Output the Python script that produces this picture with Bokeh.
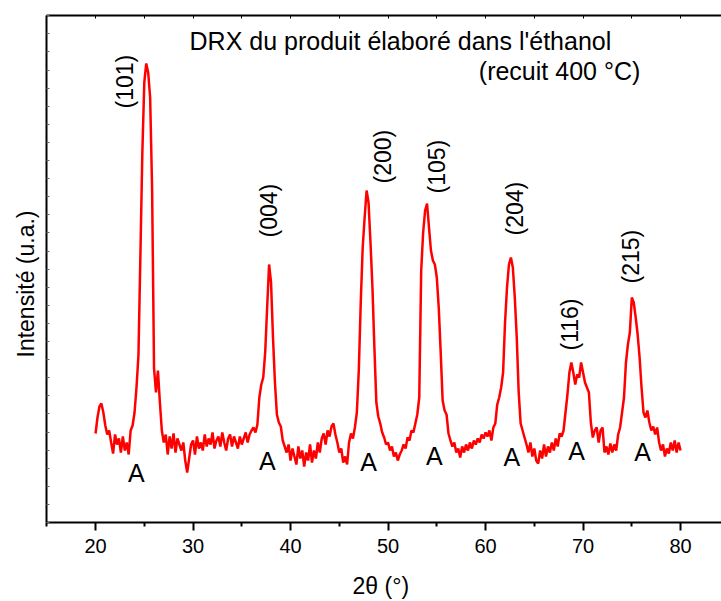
import numpy as np
from bokeh.plotting import figure
from bokeh.models import Range1d, LinearAxis, SingleIntervalTicker, FixedTicker, Label, Title
from bokeh.embed import file_html
from bokeh.resources import INLINE
from bokeh.core.properties import value

# ---- data ----
two_theta_start = 20.0
two_theta_step = 0.2
intensity = [
    89, 105, 116, 119, 110, 97, 88, 92, 80, 69,        # 20.0-21.8
    88, 78, 84, 70, 86, 72, 80, 68, 92, 97,            # 22.0-23.8
    110, 135, 167, 267, 370, 440, 459, 450, 425, 334,  # 24.0-25.8
    154, 130, 152, 120, 92, 80, 88, 68, 86, 74,        # 26.0-27.8
    89, 70, 84, 78, 72, 80, 62, 50, 64, 78,            # 28.0-29.8
    82, 68, 86, 74, 80, 72, 88, 76, 84, 78,            # 30.0-31.8
    90, 74, 82, 86, 76, 90, 80, 72, 84, 88,            # 32.0-33.8
    76, 86, 80, 74, 86, 78, 84, 90, 80, 88,            # 34.0-35.8
    92, 95, 90, 98, 125, 138, 145, 170, 215, 258,      # 36.0-37.8
    240, 185, 140, 108, 100, 96, 82, 76, 70, 78,       # 38.0-39.8
    62, 74, 66, 58, 76, 64, 72, 56, 70, 62,            # 40.0-41.8
    78, 60, 72, 64, 80, 70, 84, 89, 78, 92,            # 42.0-43.8
    86, 96, 99, 88, 80, 70, 74, 60, 66, 58,            # 44.0-45.8
    80, 89, 84, 95, 110, 152, 220, 275, 305, 332,      # 46.0-47.8
    320, 280, 235, 175, 120, 106, 99, 90, 85, 78,      # 48.0-49.8
    80, 72, 76, 66, 70, 62, 68, 72, 78, 74,            # 50.0-51.8
    85, 82, 92, 90, 99, 108, 125, 252, 290, 312,       # 52.0-53.8
    319, 295, 272, 262, 258, 245, 215, 170, 122, 112,  # 54.0-55.8
    108, 89, 82, 76, 80, 70, 74, 65, 76, 70,           # 56.0-57.8
    78, 72, 80, 74, 82, 78, 84, 80, 88, 84,            # 58.0-59.8
    90, 86, 92, 82, 95, 99, 118, 125, 135, 150,        # 60.0-61.8
    200, 235, 258, 265, 255, 225, 185, 130, 99, 92,    # 62.0-63.8
    85, 78, 70, 80, 66, 74, 62, 59, 72, 64,            # 64.0-65.8
    78, 66, 76, 70, 80, 72, 84, 76, 89, 86,            # 66.0-67.8
    92, 110, 128, 150, 160, 150, 138, 148, 145, 160,   # 68.0-69.8
    150, 140, 135, 130, 100, 85, 92, 95, 80, 92,       # 70.0-71.8
    95, 70, 76, 68, 79, 70, 78, 72, 88, 95,            # 72.0-73.8
    110, 125, 160, 178, 190, 225, 220, 205, 188, 165,  # 74.0-75.8
    135, 110, 105, 112, 100, 92, 96, 88, 95, 80,       # 76.0-77.8
    72, 78, 66, 74, 69, 80, 72, 82, 70, 80,            # 78.0-79.8
    72,                                                # 80.0
]
two_theta = [round(two_theta_start + i * two_theta_step, 1) for i in range(len(intensity))]

x_ticks = [20, 30, 40, 50, 60, 70, 80]
x_tick_labels = ["20", "30", "40", "50", "60", "70", "80"]

peak_labels = ["(101)", "(004)", "(200)", "(105)", "(204)", "(116)", "(215)"]
peak_label_x = [23.07, 37.84, 49.53, 55.07, 63.07, 68.71, 74.87]
peak_label_y = [414, 285, 339, 329, 287, 172, 239]

anatase_labels = ["A", "A", "A", "A", "A", "A", "A"]
anatase_x = [24.18, 37.61, 48.0, 54.76, 62.69, 69.33, 76.1]
anatase_y = [49.3, 62, 60.3, 67, 66, 72, 70.3]

title_text = "DRX du produit élaboré dans l'éthanol"
subtitle_text = "(recuit 400 °C)"
x_label_text = "2θ  (°)"
y_label_text = "Intensité (u.a.)"

FONT = "Liberation Sans"

p = figure(width=721, height=601, output_backend="svg", toolbar_location=None,
           x_range=Range1d(14.97, 84.2), y_range=Range1d(0, 507),
           x_axis_location=None, y_axis_location=None,
           min_border_left=46, min_border_right=0, min_border_top=15, min_border_bottom=79)
p.outline_line_color = None
p.background_fill_color = "white"
p.border_fill_color = "white"
p.xgrid.visible = False
p.ygrid.visible = False

minor = [15, 25, 35, 45, 55, 65, 75, 85]
bottom = LinearAxis(ticker=FixedTicker(ticks=x_ticks, minor_ticks=minor),
                    major_label_overrides={t: l for t, l in zip(x_ticks, x_tick_labels)})
bottom.axis_line_width = 2
bottom.major_tick_line_width = 2
bottom.minor_tick_line_width = 2
bottom.major_tick_out = 8
bottom.major_tick_in = 0
bottom.minor_tick_out = 4
bottom.minor_tick_in = 0
bottom.major_label_text_font = FONT
bottom.major_label_text_font_size = "20px"
bottom.major_label_text_color = "black"
bottom.major_label_standoff = 8
bottom.axis_label = x_label_text
bottom.axis_label_text_font = FONT
bottom.axis_label_text_font_size = "23px"
bottom.axis_label_text_font_style = "normal"
bottom.axis_label_text_color = "black"
bottom.axis_label_standoff = 17
p.add_layout(bottom, "below")

top = LinearAxis(ticker=SingleIntervalTicker(interval=5, num_minor_ticks=0))
top.axis_line_width = 2
top.major_tick_in = 3
top.major_tick_out = 0
top.major_tick_line_width = 1
top.major_label_text_color = None
top.major_label_text_font_size = "1px"
top.major_label_standoff = 0
p.add_layout(top, "above")

left = LinearAxis(ticker=SingleIntervalTicker(interval=18.1, num_minor_ticks=0))
left.axis_line_width = 2
left.major_tick_in = 3
left.major_tick_out = 0
left.major_tick_line_width = 1
left.major_tick_line_color = "#666666"
left.major_label_text_color = None
left.major_label_text_font_size = "1px"
left.major_label_standoff = 0
p.add_layout(left, "left")

p.line(two_theta, intensity, line_color="#ff0000", line_width=2.5)

p.text(x=peak_label_x, y=peak_label_y, text=peak_labels, angle=np.pi / 2,
       text_font=value(FONT), text_font_size="23px", text_color="black",
       text_align="left", text_baseline="alphabetic")
p.text(x=anatase_x, y=anatase_y, text=anatase_labels,
       text_font=value(FONT), text_font_size="25px", text_color="black",
       text_align="center", text_baseline="alphabetic")

p.add_layout(Label(x=29.64, y=482, text=title_text, text_font=FONT, text_font_size="25px",
                   text_color="black", text_align="left", text_baseline="alphabetic"))
p.add_layout(Label(x=59.31, y=452, text=subtitle_text, text_font=FONT, text_font_size="25px",
                   text_color="black", text_align="left", text_baseline="alphabetic"))

p.add_layout(Title(text=y_label_text, align="left", offset=165, standoff=16,
                   text_font=FONT, text_font_size="23px", text_font_style="normal",
                   text_color="black"), "left")

open("out.html", "w").write(file_html(p, INLINE))
